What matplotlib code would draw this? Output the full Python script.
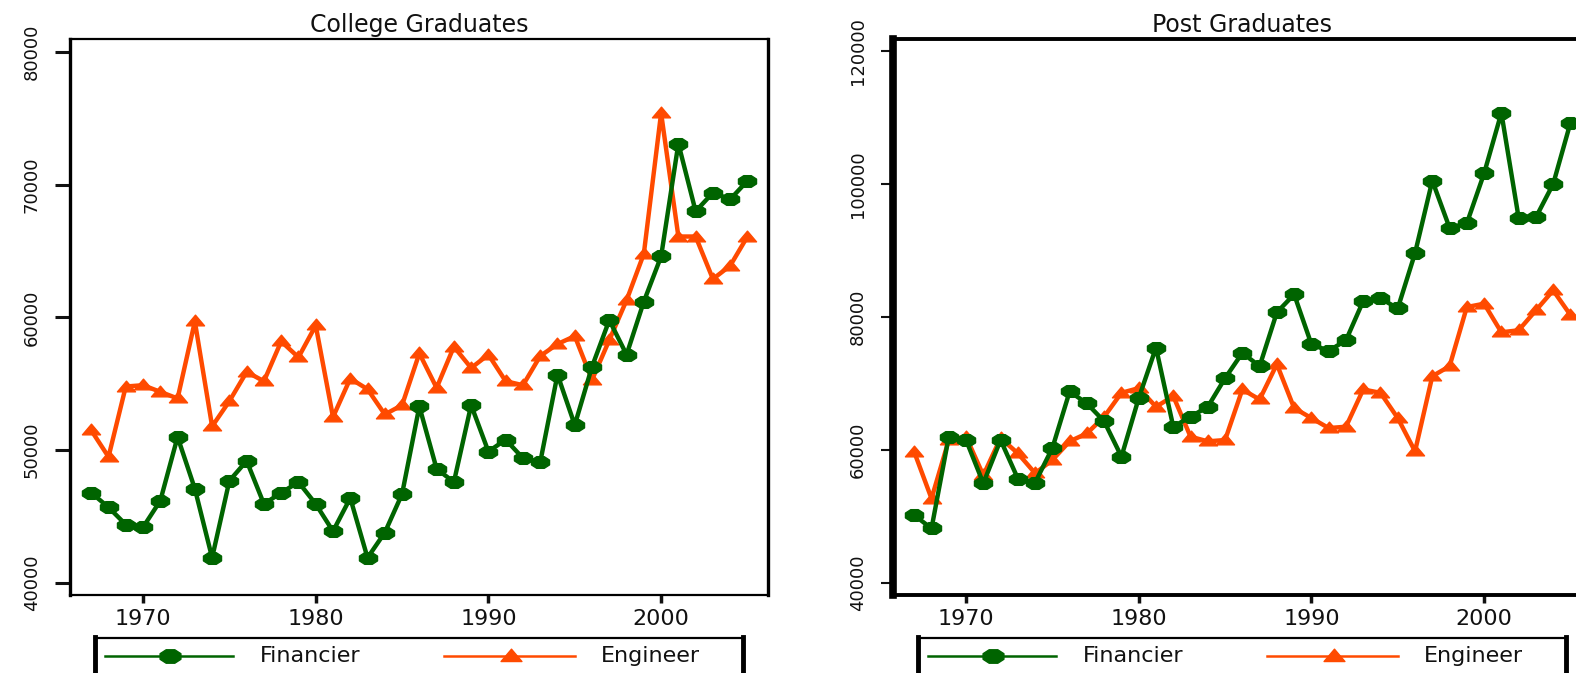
import numpy as np
import matplotlib
matplotlib.use("Agg")
import matplotlib.pyplot as plt
from matplotlib.lines import Line2D
from matplotlib.path import Path

# ---------------- data ----------------
years = list(range(1967, 2006))

college_financier = [46800, 45700, 44400, 44200, 46200, 51000, 47100, 41900, 47700, 49200,
                     45950, 46800, 47600, 45950, 43900, 46400, 41900, 43800, 46700, 53300,
                     48600, 47600, 53400, 49900, 50800, 49400, 49100, 55700, 51900, 56300,
                     59800, 57200, 61200, 64600, 73100, 68000, 69400, 68900, 70300]
college_engineer = [51500, 49500, 54800, 54900, 54400, 53900, 59700, 51800, 53700, 55900,
                    55200, 58200, 57000, 59400, 52500, 55400, 54600, 52700, 53400, 57300,
                    54700, 57800, 56200, 57200, 55200, 54900, 57100, 58000, 58600, 55300,
                    58300, 61300, 64800, 75400, 66100, 66100, 62900, 63900, 66100]

post_financier = [50200, 48200, 62000, 61500, 55000, 61500, 55700, 55100, 60300, 68800,
                  67000, 64300, 59000, 67800, 75400, 63500, 65000, 66500, 70800, 74600,
                  72600, 80700, 83400, 75900, 74900, 76500, 82400, 82800, 81300, 89600,
                  100500, 93400, 94100, 101600, 110700, 94900, 95000, 100000, 109200]
post_engineer = [59700, 52700, 61500, 62000, 56200, 61800, 59500, 56500, 58500, 61300,
                 62500, 65000, 68600, 69300, 66500, 68100, 62000, 61300, 61500, 69100,
                 67600, 72900, 66300, 64800, 63300, 63500, 69100, 68600, 64800, 59800,
                 71100, 72600, 81500, 82000, 77700, 78000, 81000, 84000, 80300]

panel_titles = ["College Graduates", "Post Graduates"]
series_names = ["Financier", "Engineer"]
x_ticks = [1970, 1980, 1990, 2000]
college_yticks = [40000, 50000, 60000, 70000, 80000]
post_yticks = [40000, 60000, 80000, 100000, 120000]

# ---------------- style ----------------
GREEN = "#006400"
ORANGE = "#ff4a00"
TXT = "#111111"

W, H = 1576, 673
fig = plt.figure(figsize=(W / 100, H / 100), dpi=100)


def rect(l, t, r, b):
    return [l / W, 1 - b / H, (r - l) / W, (b - t) / H]


def fx(x):
    return x / W


def fy(y):
    return 1 - y / H


# custom markers (horizontally stretched, like the reference)
ang = np.deg2rad(np.arange(22.5, 360, 45))
oct_verts = np.column_stack([1.55 * np.cos(ang), np.sin(ang)])
oct_verts = np.vstack([oct_verts, oct_verts[:1]])
OCT = Path(oct_verts, [Path.MOVETO] + [Path.LINETO] * 7 + [Path.CLOSEPOLY])
TRI = Path([(-1.35, -0.65), (1.35, -0.65), (0.0, 0.95), (-1.35, -0.65)],
           [Path.MOVETO, Path.LINETO, Path.LINETO, Path.CLOSEPOLY])

panels = [
    dict(rect=rect(70, 39, 768, 595), fin=college_financier, eng=college_engineer,
         yticks=college_yticks, ylim=(39096, 80979), title=panel_titles[0],
         lw_h=1.6, lw_v=2.4, ytl=11, ytw=2.2),
    dict(rect=rect(893, 39, 1591, 595), fin=post_financier, eng=post_engineer,
         yticks=post_yticks, ylim=(38195, 121805), title=panel_titles[1],
         lw_h=2.8, lw_v=5.5, ytl=9, ytw=1.5),
]

for p in panels:
    ax = fig.add_axes(p["rect"])
    ax.plot(years, p["eng"], color=ORANGE, lw=3.2, marker=TRI, ms=13,
            mfc=ORANGE, mec=ORANGE, zorder=3)
    ax.plot(years, p["fin"], color=GREEN, lw=3.2, marker=OCT, ms=13,
            mfc=GREEN, mec=GREEN, zorder=4)
    ax.set_xlim(1965.77, 2006.19)
    ax.set_ylim(*p["ylim"])
    ax.set_xticks(x_ticks)
    ax.set_yticks(p["yticks"])
    ax.set_xticklabels([str(t) for t in x_ticks])
    ax.set_yticklabels([str(t) for t in p["yticks"]])
    for s in ("top", "bottom"):
        ax.spines[s].set_linewidth(p["lw_h"])
    for s in ("left", "right"):
        ax.spines[s].set_linewidth(p["lw_v"])
    ax.tick_params(axis="x", direction="out", length=6, width=2.5, pad=4,
                   labelsize=16, colors=TXT)
    ax.tick_params(axis="y", direction="out", length=p["ytl"], width=p["ytw"],
                   pad=10, labelsize=13, colors=TXT, labelrotation=90)
    for lbl in ax.get_yticklabels():
        lbl.set_va("center")
    ax.set_title(p["title"], fontsize=17, pad=5, color=TXT)

# ---------------- legends (drawn below each panel) ----------------
for x0, x1 in [(95, 743), (918, 1566)]:
    fig.add_artist(Line2D([fx(x0), fx(x1)], [fy(638), fy(638)], color="black",
                          lw=1.6, transform=fig.transFigure))
    for xs in (x0, x1):
        fig.add_artist(Line2D([fx(xs), fx(xs)], [fy(637), fy(690)], color="black",
                              lw=3.5, transform=fig.transFigure))
    off = x0 - 95
    yl = 656
    fig.add_artist(Line2D([fx(105 + off), fx(233 + off)], [fy(yl), fy(yl)], color=GREEN,
                          lw=1.8, transform=fig.transFigure))
    fig.add_artist(Line2D([fx(170 + off)], [fy(yl)], color=GREEN, marker=OCT, ms=15,
                          mfc=GREEN, mec=GREEN, lw=0, transform=fig.transFigure))
    fig.text(fx(260 + off), fy(yl), series_names[0], fontsize=16, va="center",
             ha="left", color=TXT)
    fig.add_artist(Line2D([fx(444 + off), fx(575 + off)], [fy(yl), fy(yl)], color=ORANGE,
                          lw=1.8, transform=fig.transFigure))
    fig.add_artist(Line2D([fx(511 + off)], [fy(yl)], color=ORANGE, marker=TRI, ms=15,
                          mfc=ORANGE, mec=ORANGE, lw=0, transform=fig.transFigure))
    fig.text(fx(601 + off), fy(yl), series_names[1], fontsize=16, va="center",
             ha="left", color=TXT)

fig.savefig("out.png", dpi=100)
